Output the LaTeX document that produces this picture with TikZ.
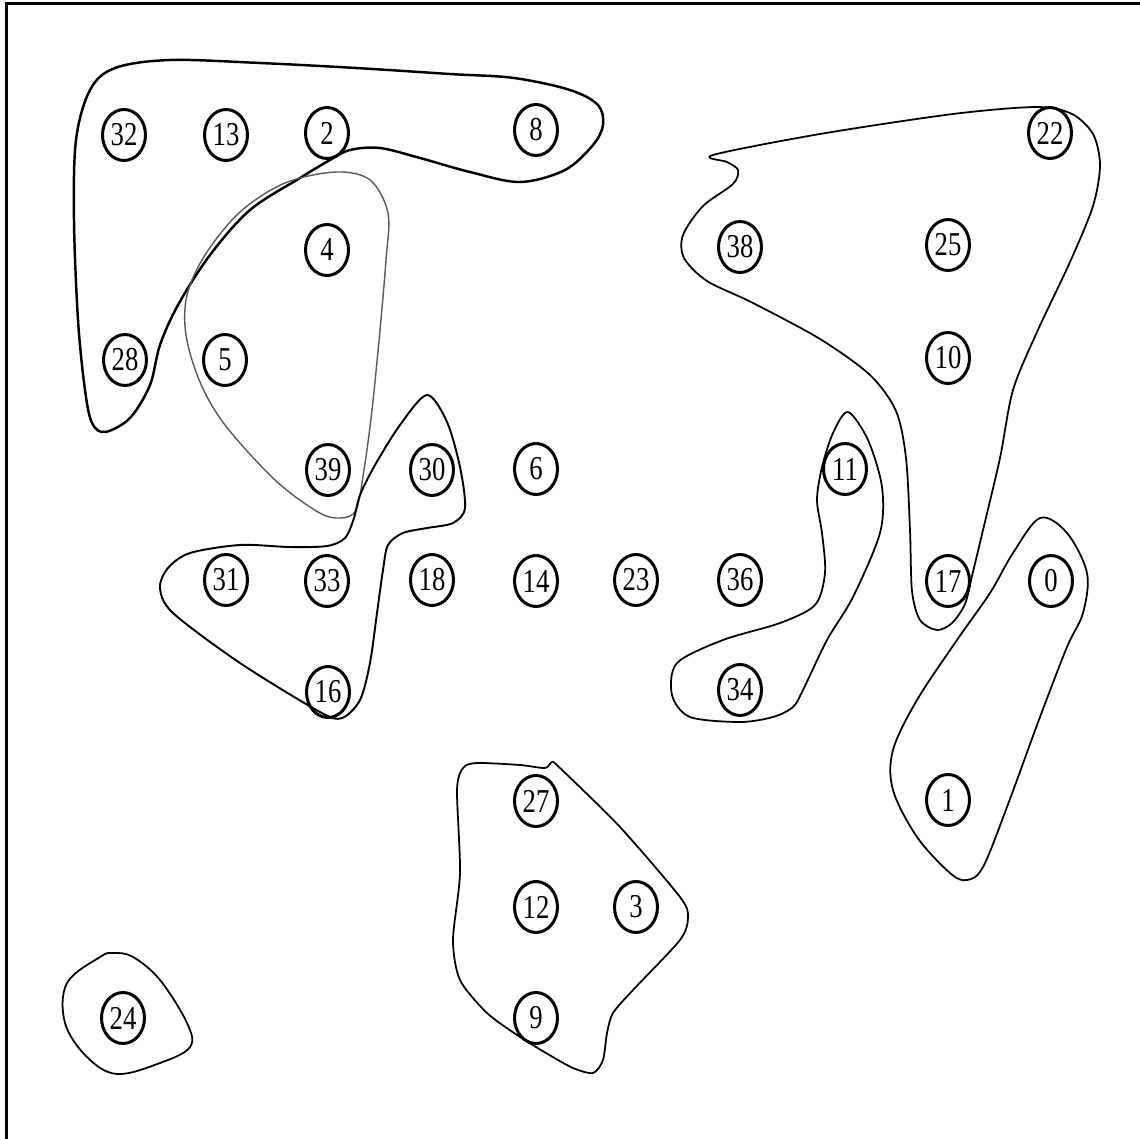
\documentclass[tikz,border=0pt]{standalone}
\usepackage{fontspec}
\newfontfamily\numfont[FakeStretch=0.8]{Liberation Serif}
\usetikzlibrary{shapes.geometric}
\tikzset{
  vx/.style={draw, ellipse, line width=1.7pt, minimum width=0.86cm, minimum height=1.02cm, inner sep=0pt, font=\numfont\fontsize{19}{19}\selectfont},
  blobdark/.style={draw, line width=1.4pt, line join=round},
  blobgray/.style={draw=black!65, line width=0.8pt, line join=round},
  blobthin/.style={draw, line width=1pt, line join=round},
  framest/.style={line width=2.2pt}
}
\begin{document}
\begin{tikzpicture}[x=0.02cm, y=-0.02cm]
\useasboundingbox (0,0) rectangle (1140,1139);
\coordinate (fb) at (6.5,1139);
\coordinate (fc) at (6.5,3.5);
\coordinate (fr) at (1140,3.5);
\draw[framest] (fb) -- (fc) -- (fr);

% vertices
\node[vx] (n32) at (124,135) {32};
\node[vx] (n13) at (226,135) {13};
\node[vx] (n2) at (327,133) {2};
\node[vx] (n8) at (536,130) {8};
\node[vx] (n4) at (327,250) {4};
\node[vx] (n38) at (740,247) {38};
\node[vx] (n25) at (948,245) {25};
\node[vx] (n22) at (1050,133) {22};
\node[vx] (n28) at (125,360) {28};
\node[vx] (n5) at (225,360) {5};
\node[vx] (n10) at (948,358) {10};
\node[vx] (n39) at (328,470) {39};
\node[vx] (n30) at (432,470) {30};
\node[vx] (n6) at (536,469) {6};
\node[vx] (n11) at (845,469) {11};
\node[vx] (n31) at (226,580) {31};
\node[vx] (n33) at (327,581) {33};
\node[vx] (n18) at (432,580) {18};
\node[vx] (n14) at (536,581) {14};
\node[vx] (n23) at (636,580) {23};
\node[vx] (n36) at (740,580) {36};
\node[vx] (n17) at (948,581) {17};
\node[vx] (n0) at (1051,581) {0};
\node[vx] (n16) at (328,692) {16};
\node[vx] (n34) at (740,690) {34};
\node[vx] (n27) at (536,801) {27};
\node[vx] (n1) at (948,800) {1};
\node[vx] (n12) at (536,907) {12};
\node[vx] (n3) at (636,907) {3};
\node[vx] (n24) at (123,1018) {24};
\node[vx] (n9) at (536,1018) {9};

% blob A (32,13,2,8,28)
\path[blobdark] plot[smooth cycle, tension=0.55] coordinates {
(90,90) (115,68) (170,60) (260,63) (356,68) (450,74) (514,78) (570,90) (598,105) (603,125) (593,145) (565,170) (520,182) (470,172) (420,158) (380,148) (350,150) (330,160) (300,178) (250,210) (210,255) (178,305) (160,345) (150,385) (130,418) (105,432) (92,423) (85,390) (78,320) (74,220) (76,140)};

% blob B (4,5,39)
\path[blobgray] plot[smooth cycle, tension=0.55] coordinates {
(336,172) (370,180) (388,213) (386,260) (380,330) (372,410) (364,470) (356,510) (340,518) (318,512) (275,480) (225,425) (200,382) (186,335) (187,295) (205,255) (240,212) (285,183)};

% blob C (30,31,33,16)
\path[blobdark, line width=1.1pt] plot[smooth cycle, tension=0.5] coordinates {
(427,395) (447,422) (460,467) (465,508) (453,523) (427,528) (403,533) (388,545) (383,570) (377,613) (370,663) (360,700) (342,718) (320,712) (240,663) (173,613) (160,588) (168,568) (190,553) (240,545) (290,547) (327,546) (345,538) (354,518) (360,495) (375,465) (400,425)};

% blob D (38,25,10,22,17)
\path[blobthin] plot[smooth cycle, tension=0.5] coordinates {
(713,155) (820,134) (953,114) (1037,107) (1072,114) (1093,134) (1100,165) (1093,206) (1070,262) (1037,332) (1013,390) (1000,458) (983,530) (972,576) (965,604) (952,623) (937,630) (920,620) (912,591) (910,530) (906,458) (896,411) (870,375) (820,339) (753,303) (707,281) (684,258) (683,235) (703,206) (733,184) (738,170) (727,162)};

% blob E (11,34)
\path[blobthin] plot[smooth cycle, tension=0.5] coordinates {
(848,412) (868,440) (882,487) (880,533) (853,597) (827,640) (803,690) (793,707) (773,717) (740,722) (690,717) (672,695) (677,663) (723,640) (780,623) (815,605) (825,573) (822,533) (817,500) (822,467) (833,433)};

% blob F (0,1)
\path[blobthin] plot[smooth cycle, tension=0.55] coordinates {
(1040,518) (1067,533) (1087,573) (1083,613) (1067,647) (1040,717) (1007,807) (983,867) (967,880) (950,873) (917,837) (893,790) (893,750) (917,700) (957,640) (990,593) (1013,553)};

% blob G (27,12,3,9)
\path[blobthin] plot[smooth cycle, tension=0.45] coordinates {
(545,768) (552,762) (560,768) (620,827) (680,897) (688,917) (680,940) (633,990) (613,1013) (607,1033) (603,1060) (593,1073) (573,1068) (546,1053) (520,1037) (487,1013) (460,980) (453,940) (460,873) (457,790) (463,768) (477,763) (520,765)};

% blob H (24)
\path[blobthin] plot[smooth cycle, tension=0.6] coordinates {
(113,953) (133,957) (160,980) (187,1023) (190,1047) (160,1063) (117,1074) (87,1057) (65,1023) (67,983) (100,957)};
\end{tikzpicture}
\end{document}
